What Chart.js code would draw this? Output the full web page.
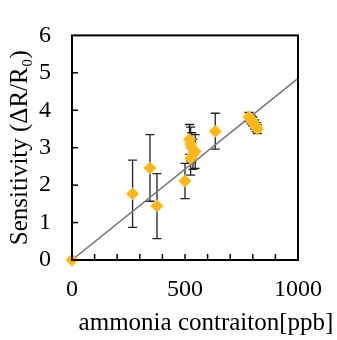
<!DOCTYPE html>
<html>
<head>
<meta charset="utf-8">
<script src="https://cdn.jsdelivr.net/npm/chart.js@4.4.1/dist/chart.umd.min.js"></script>
<style>
html,body{margin:0;padding:0;background:#fff;}
#wrap{width:337px;height:340px;position:relative;}
</style>
</head>
<body>
<div id="wrap"><canvas id="c"></canvas></div>
<script>
// Data
const concentration = [0, 268, 345, 376, 500, 634, 520, 525, 530, 545, 535, 525, 783, 793, 800, 808, 815, 820];
const sensitivity   = [0, 1.77, 2.46, 1.44, 2.11, 3.44, 3.22, 3.10, 3.00, 2.90, 2.82, 2.72, 3.82, 3.75, 3.70, 3.62, 3.55, 3.50];
const errorBars     = [0, 0.90, 0.89, 0.87, 0.47, 0.48, 0.40, 0.45, 0.40, 0.45, 0.40, 0.45, 0.12, 0.12, 0.12, 0.12, 0.12, 0.12];
const trendX = [0, 1000];
const trendY = [0, 4.85];
const xTickLabels = [0, 500, 1000];
const yTickLabels = [0, 1, 2, 3, 4, 5, 6];
const xTitle = 'ammonia contraiton[ppb]';
const yTitle = 'Sensitivity (ΔR/R₀)';

const FONT = '"Liberation Serif", "Times New Roman", serif';

const points = concentration.map((x, i) => ({x: x, y: sensitivity[i], e: errorBars[i]}));
const trend = trendX.map((x, i) => ({x: x, y: trendY[i]}));

const decor = {
  id: 'decor',
  beforeDatasetsDraw(chart) {
    const {ctx, scales: {x, y}} = chart;
    ctx.save();
    ctx.strokeStyle = '#222';
    ctx.lineWidth = 1.3;
    points.forEach(p => {
      if (!p.e) return;
      const px = x.getPixelForValue(p.x);
      const t = y.getPixelForValue(p.y + p.e);
      const b = y.getPixelForValue(p.y - p.e);
      ctx.beginPath();
      ctx.moveTo(px, t); ctx.lineTo(px, b);
      ctx.moveTo(px - 4.5, t); ctx.lineTo(px + 4.5, t);
      ctx.moveTo(px - 4.5, b); ctx.lineTo(px + 4.5, b);
      ctx.stroke();
    });
    ctx.restore();
  },
  afterDraw(chart) {
    const {ctx, chartArea: a, scales: {x, y}} = chart;
    ctx.save();
    ctx.strokeStyle = '#000';
    ctx.lineWidth = 2;
    ctx.strokeRect(a.left, a.top, a.right - a.left, a.bottom - a.top);
    ctx.lineWidth = 1.5;
    x.ticks.forEach(t => {
      const px = x.getPixelForValue(t.value);
      if (t.value <= 0 || t.value >= 1000) return;
      ctx.beginPath(); ctx.moveTo(px, a.bottom); ctx.lineTo(px, a.bottom - 6); ctx.stroke();
    });
    y.ticks.forEach(t => {
      const py = y.getPixelForValue(t.value);
      if (t.value <= 0 || t.value >= 6) return;
      ctx.beginPath(); ctx.moveTo(a.left, py); ctx.lineTo(a.left + 6, py); ctx.stroke();
    });
    ctx.fillStyle = '#000';
    ctx.font = '25px ' + FONT;
    ctx.textAlign = 'center';
    ctx.textBaseline = 'alphabetic';
    ctx.fillText(xTitle, 206, 330);
    ctx.restore();
  }
};

new Chart(document.getElementById('c'), {
  type: 'scatter',
  data: {
    datasets: [
      {
        label: 'data',
        data: points,
        pointStyle: 'rectRot',
        pointRadius: 6.5,
        pointHoverRadius: 6.5,
        backgroundColor: '#FFB81C',
        borderColor: '#FFB81C',
        borderWidth: 0,
        clip: false,
        order: 1
      },
      {
        label: 'fit',
        type: 'line',
        data: trend,
        borderColor: '#7a7a7a',
        borderWidth: 1.5,
        pointRadius: 0,
        fill: false,
        order: 2
      }
    ]
  },
  options: {
    responsive: true,
    maintainAspectRatio: false,
    animation: false,
    events: [],
    layout: {padding: {top: 19, right: 39, left: 0, bottom: 0}},
    plugins: {legend: {display: false}, tooltip: {enabled: false}},
    scales: {
      x: {
        type: 'linear',
        min: 0, max: 1000,
        grid: {display: false, drawTicks: false},
        border: {display: false},
        afterFit(s) { s.height = 80; },
        afterBuildTicks(s) {
          const t = [];
          for (let v = 0; v <= 1000; v += 100) t.push({value: v});
          s.ticks = t;
        },
        ticks: {
          autoSkip: false,
          maxRotation: 0,
          padding: 15,
          color: '#000',
          font: {family: FONT, size: 24},
          callback: v => xTickLabels.includes(v) ? String(v) : ''
        }
      },
      y: {
        type: 'linear',
        min: 0, max: 6,
        grid: {display: false, drawTicks: false},
        border: {display: false},
        afterFit(s) { s.width = 72; },
        afterBuildTicks(s) { s.ticks = yTickLabels.map(v => ({value: v})); },
        ticks: {
          padding: 21,
          color: '#000',
          font: {family: FONT, size: 24},
          callback: v => String(v)
        },
        title: {
          display: true,
          text: yTitle,
          color: '#000',
          font: {family: FONT, size: 25},
          padding: {top: 5, bottom: 0}
        }
      }
    }
  },
  plugins: [decor]
});
</script>
</body>
</html>
